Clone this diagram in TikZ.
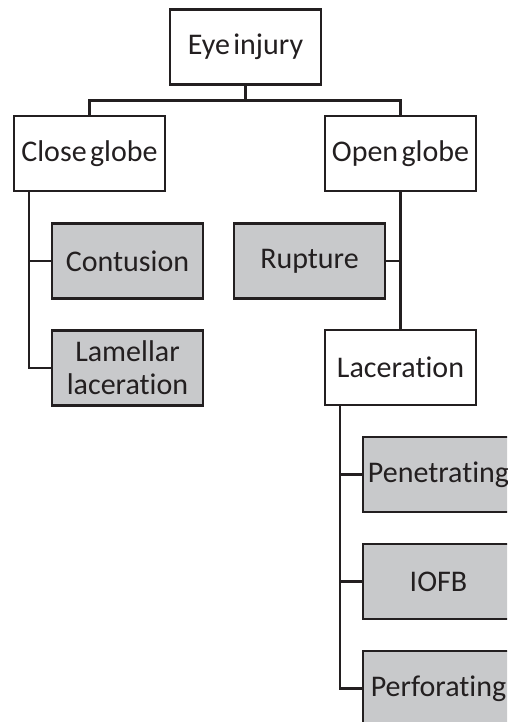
\documentclass[tikz,border=0pt]{standalone}
\usepackage{fontspec}
\setmainfont[WordSpace=0.5,Ligatures={NoCommon,NoRare}]{Carlito}
\usetikzlibrary{calc}
\definecolor{boxgray}{HTML}{C8C9CB}
\definecolor{ink}{HTML}{231F20}
\begin{document}
\begin{tikzpicture}[x=1pt,y=-1pt,
  box/.style={draw=ink,line width=2.2pt,minimum width=151pt,minimum height=75pt,inner sep=0pt,
    align=center,text=ink,font=\fontsize{30}{33}\selectfont},
  leaf/.style={box,fill=boxgray},
  conn/.style={draw=ink,line width=2.2pt}]
\useasboundingbox (0,0) rectangle (507,722);
\clip (0,0) rectangle (507,722);
\node[box,fill=white] (eye) at (245.5,47) {Eye injury};
\node[box] (close) at (89.5,153.5) {Close globe};
\node[box] (open) at (400.5,153.5) {Open globe};
\node[leaf] (cont) at (127.5,261) {Contusion};
\node[leaf] (lam) at (127.5,368) {Lamellar\\laceration};
\node[leaf] (rup) at (309.5,261) {Rupture};
\node[box] (lac) at (400.5,367.5) {Laceration};
\node[leaf] (pen) at (438.5,474.5) {Penetrating};
\node[leaf] (iofb) at (438.5,581.5) {IOFB};
\node[leaf] (perf) at (438.5,688.5) {Perforating};
\coordinate (j) at ($(eye.south)+(0,15)$);
\draw[conn] (eye.south) -- (j);
\draw[conn] (close.north) |- (j) -| (open.north);
\coordinate (ct) at ($(close.south west)+(16,0)$);
\draw[conn] (ct) |- (cont.west);
\draw[conn] (ct) |- (lam.west);
\draw[conn] (open.south) -- (lac.north);
\draw[conn] (rup.east) -- (rup.east -| open.south);
\coordinate (lt) at ($(lac.south west)+(16,0)$);
\draw[conn] (lt) |- (pen.west);
\draw[conn] (lt) |- (iofb.west);
\draw[conn] (lt) |- (perf.west);
\end{tikzpicture}
\end{document}
